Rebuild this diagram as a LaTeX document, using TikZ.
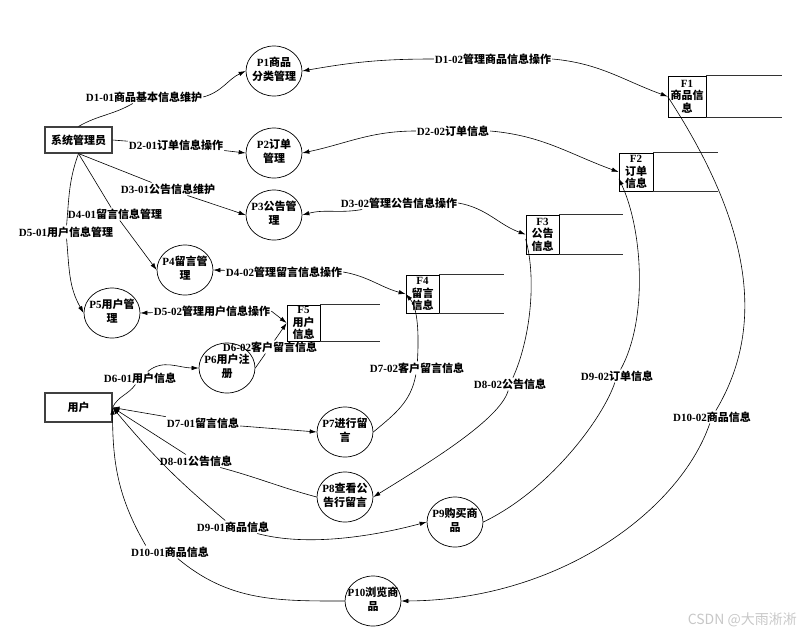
\documentclass[tikz,border=0pt]{standalone}
\usepackage{fontspec}
\setmainfont{Liberation Serif}
\newfontfamily\cjk{Noto Sans CJK SC}
\usetikzlibrary{shapes.geometric,arrows.meta}
\newcommand\zh[1]{{\cjk\bfseries #1}}
\newcommand\twol[2]{\makebox[0pt]{\begin{tabular}{@{}c@{}}#1\\#2\end{tabular}}}
\begin{document}
\begin{tikzpicture}[x=1pt,y=1pt,
  ftxt/.style={font=\bfseries\fontsize{11}{14}\selectfont},
  proc/.style={ftxt,draw,ellipse,minimum width=56pt,minimum height=50pt,inner sep=0pt,line width=0.7pt},
  extbox/.style={ftxt,draw=black!75,rectangle,minimum width=67pt,line width=1.1pt},
  store/.style={draw,rectangle,font=\bfseries\fontsize{11}{12.5}\selectfont,align=center,inner sep=0pt,minimum width=33pt,minimum height=38pt,line width=0.7pt},
  storeline/.style={draw=black!80,line width=0.8pt},
  lbl/.style={ftxt,inner sep=1pt},
  flow/.style={line width=0.6pt},
  >={Latex[length=7pt,width=4.5pt]}
]
\useasboundingbox (0,0) rectangle (799,-634);

% external entities
\node[extbox,minimum height=26pt] (admin) at (78.5,-140) {\zh{系统管理员}};
\node[extbox,minimum height=29pt] (user) at (78.5,-407.5) {\zh{用户}};

% processes
\node[proc] (P1) at (274,-71) {\twol{P1\zh{商品}}{\zh{分类管理}}};
\node[proc] (P2) at (274,-153) {\twol{P2\zh{订单}}{\zh{管理}}};
\node[proc] (P3) at (274,-215) {\twol{P3\zh{公告管}}{\zh{理}}};
\node[proc] (P4) at (185,-270) {\twol{P4\zh{留言管}}{\zh{理}}};
\node[proc] (P5) at (112,-313) {\twol{P5\zh{用户管}}{\zh{理}}};
\node[proc] (P6) at (227,-368) {\twol{P6\zh{用户注}}{\zh{册}}};
\node[proc] (P7) at (345,-432) {\twol{P7\zh{进行留}}{\zh{言}}};
\node[proc] (P8) at (345,-497) {\twol{P8\zh{查看公}}{\zh{告行留言}}};
\node[proc] (P9) at (455,-522) {\twol{P9\zh{购买商}}{\zh{品}}};
\node[proc] (P10) at (373,-601) {\twol{P10\zh{浏览商}}{\zh{品}}};

% data stores
\node[store,minimum width=38pt,minimum height=41pt] (F1) at (687,-96.5) {F1\\\zh{商品信}\\\zh{息}};
\draw[storeline] (F1.north east) -- ++(76,0) (F1.south east) -- ++(76,0);
\node[store,minimum width=34pt] (F2) at (636,-172) {F2\\\zh{订单}\\\zh{信息}};
\draw[storeline] (F2.north east) -- ++(65,0) (F2.south east) -- ++(65,0);
\node[store,minimum height=39pt] (F3) at (542.5,-234.5) {F3\\\zh{公告}\\\zh{信息}};
\draw[storeline] (F3.north east) -- ++(64,0) (F3.south east) -- ++(64,0);
\node[store] (F4) at (422.5,-294) {F4\\\zh{留言}\\\zh{信息}};
\draw[storeline] (F4.north east) -- ++(65,0) (F4.south east) -- ++(65,0);
\node[store,minimum height=36pt] (F5) at (303.5,-323) {F5\\\zh{用户}\\\zh{信息}};
\draw[storeline] (F5.north east) -- ++(60,0) (F5.south east) -- ++(60,0);

% labels
\node[lbl] (L1) at (144,-97) {D1-01\zh{商品基本信息维护}};
\node[lbl] (L2) at (176,-145) {D2-01\zh{订单信息操作}};
\node[lbl] (L3) at (168,-189) {D3-01\zh{公告信息维护}};
\node[lbl] (L4) at (115,-214) {D4-01\zh{留言信息管理}};
\node[lbl] (L5) at (66,-232) {D5-01\zh{用户信息管理}};
\node[lbl] (L6) at (493,-59) {D1-02\zh{管理商品信息操作}};
\node[lbl] (L7) at (453,-131) {D2-02\zh{订单信息}};
\node[lbl] (L8) at (399,-203) {D3-02\zh{管理公告信息操作}};
\node[lbl] (L9) at (284,-272) {D4-02\zh{管理留言信息操作}};
\node[lbl] (L10) at (212,-311) {D5-02\zh{管理用户信息操作}};
\node[lbl] (L11) at (140,-378) {D6-01\zh{用户信息}};
\node[lbl] (L12) at (270,-347) {D6-02\zh{客户留言信息}};
\node[lbl] (L13) at (203,-423) {D7-01\zh{留言信息}};
\node[lbl] (L14) at (417,-368) {D7-02\zh{客户留言信息}};
\node[lbl] (L15) at (196,-461) {D8-01\zh{公告信息}};
\node[lbl] (L16) at (510,-384) {D8-02\zh{公告信息}};
\node[lbl] (L17) at (233,-527) {D9-01\zh{商品信息}};
\node[lbl] (L18) at (617,-376) {D9-02\zh{订单信息}};
\node[lbl] (L19) at (170,-552) {D10-01\zh{商品信息}};
\node[lbl] (L20) at (712,-417) {D10-02\zh{商品信息}};

% admin flows
\draw[flow] (admin.north) to[out=30,in=210] (L1);
\draw[flow,->] (L1.east) to[out=15,in=205] (P1.west);
\draw[flow] (admin.east) -- (L2);
\draw[flow,->] (L2) -- (P2.west);
\draw[flow] (admin.south) -- (L3);
\draw[flow,->] (L3) -- (P3.west);
\draw[flow] (admin.south) -- (L4);
\draw[flow,->] (L4) -- (P4.west);
\draw[flow] (admin.south) to[out=250,in=85] (L5);
\draw[flow,->] (L5) to[out=-85,in=120] (P5.west);

% process <-> store
\draw[flow,<-] (P1.east) to[out=10,in=180] (L6);
\draw[flow,->] (L6.east) to[out=-5,in=160] (F1.west);
\draw[flow,<-] (P2.east) to[out=12,in=180] (L7);
\draw[flow,->] (L7.east) to[out=-5,in=160] (F2.west);
\draw[flow,<-] (P3.east) to[out=15,in=190] (L8);
\draw[flow,->] (L8.east) to[out=-10,in=160] (F3.west);
\draw[flow,<-] (P4.east) -- (L9);
\draw[flow,->] (L9.east) to[out=-10,in=165] (F4.west);
\draw[flow,<-] (P5.east) -- (L10);
\draw[flow,->] (L10.east) -- (F5.west);

% user flows
\draw[flow] (user.east) to[out=65,in=235] (L11);
\draw[flow,->] (L11) to[out=40,in=180] (P6.west);
\draw[flow] (P6.east) -- (L12);
\draw[flow,->] (L12) -- (F5.west);
\draw[flow,<-] (user.east) -- (L13);
\draw[flow,->] (L13) -- (P7.west);
\draw[flow] (P7.east) to[out=40,in=-100] (L14);
\draw[flow,->] (L14) .. controls (419,-335) and (418,-308) .. (F4.west);
\draw[flow] (P8.west) to[out=165,in=-15] (L15);
\draw[flow,->] (L15) -- (user.east);
\draw[flow] (F3.195) .. controls (537,-280) and (530,-340) .. (L16);
\draw[flow,->] (L16) .. controls (500,-420) and (425,-465) .. (P8.east);
\draw[flow,<-] (user.east) to[out=-50,in=140] (L17);
\draw[flow,->] (L17) to[out=-15,in=195,looseness=0.8] (P9.west);
\draw[flow,<-] (F2.200) .. controls (643,-230) and (648,-320) .. (L18);
\draw[flow] (L18) .. controls (603,-418) and (550,-490) .. (P9.east);
\draw[flow] (P10.west) to[out=180,in=-40] (L19);
\draw[flow,->] (L19.165) to[out=120,in=-90] (user.east);
\draw[flow] (F1.west) .. controls (745,-215) and (770,-320) .. (L20);
\draw[flow,->] (L20) .. controls (680,-510) and (560,-600) .. (P10.east);

% watermark
\node[anchor=east,text=black!22,font=\cjk\fontsize{14}{16}\selectfont,inner sep=0pt] (wm) at (797,-620) {CSDN @大雨淅淅};
\end{tikzpicture}
\end{document}
